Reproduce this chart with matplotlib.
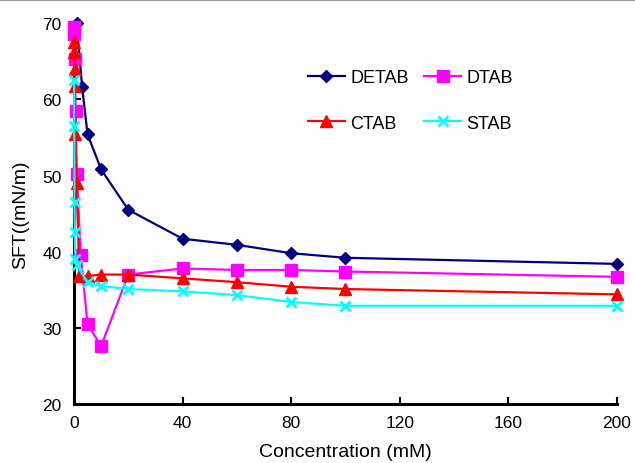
import matplotlib
matplotlib.use('Agg')
import matplotlib.pyplot as plt
from matplotlib.lines import Line2D
import numpy

plt.rcParams['font.family'] = ['Liberation Sans', 'DejaVu Sans']

# surface tension vs concentration (mM)
xDETAB = [1.0, 3.0, 5.0, 10.0, 20.0, 40.0, 60.0, 80.0, 100.0, 200.0]
yDETAB = [70.0, 61.6, 55.4, 50.8, 45.5, 41.7, 40.9, 39.8, 39.2, 38.4]

xDTAB = [0.05, 0.1, 0.3, 0.6, 1.0, 2.5, 5.0, 10.0, 20.0, 40.0, 60.0, 80.0, 100.0, 200.0]
yDTAB = [69.5, 68.6, 65.3, 58.5, 50.2, 39.6, 30.5, 27.6, 37.0, 37.8, 37.6, 37.6, 37.4, 36.7]

xCTAB = [0.05, 0.1, 0.2, 0.3, 0.5, 1.0, 2.0, 5.0, 10.0, 20.0, 40.0, 60.0, 80.0, 100.0, 200.0]
yCTAB = [67.5, 66.2, 64.0, 61.8, 55.4, 49.0, 36.8, 36.8, 37.0, 37.0, 36.5, 36.0, 35.4, 35.1, 34.4]

xSTAB = [0.05, 0.1, 0.2, 0.3, 0.5, 1.0, 5.0, 10.0, 20.0, 40.0, 60.0, 80.0, 100.0, 200.0]
ySTAB = [62.6, 56.5, 46.5, 42.6, 39.0, 38.2, 36.0, 35.5, 35.1, 34.8, 34.3, 33.4, 32.9, 32.9]

fig = plt.figure(figsize=(6.35, 4.64), dpi=100)
ax = fig.add_axes([0.1165, 0.127, 0.855, 0.821])

l1, = ax.plot(numpy.array(xDETAB), numpy.array(yDETAB), color='#000080', lw=1.6, marker='D', ms=6.5, label='DETAB', clip_on=False, zorder=3)
l2, = ax.plot(numpy.array(xDTAB), numpy.array(yDTAB), color='#FF00FF', lw=1.6, marker='s', ms=8, label='DTAB', clip_on=False, zorder=4)
l3, = ax.plot(numpy.array(xCTAB), numpy.array(yCTAB), color='#FF0000', lw=1.6, marker='^', ms=8, label='CTAB', clip_on=False, zorder=5)
l4, = ax.plot(numpy.array(xSTAB), numpy.array(ySTAB), color='#00FFFF', lw=1.6, marker='x', ms=7, mew=2, label='STAB', clip_on=False, zorder=6)

ax.set_xlim(0, 200)
ax.set_ylim(20, 70)
ax.set_xticks([0, 40, 80, 120, 160, 200])
ax.set_yticks([20, 30, 40, 50, 60, 70])
ax.tick_params(direction='in', length=5, width=1.5, labelsize=12.5)
ax.tick_params(axis='x', pad=8)
ax.tick_params(axis='y', pad=9)
for s in ['top', 'right']:
    ax.spines[s].set_visible(False)
for s in ['left', 'bottom']:
    ax.spines[s].set_linewidth(2.2)

ax.set_xlabel('Concentration (mM)', fontsize=14, labelpad=9)
ax.set_ylabel('SFT((mN/m)', fontsize=14, labelpad=9)

# legend filled row by row: DETAB DTAB / CTAB STAB
ax.legend([l1, l3, l2, l4], ['DETAB', 'CTAB', 'DTAB', 'STAB'], ncol=2, frameon=False, fontsize=13,
          loc='upper left', bbox_to_anchor=(0.431, 0.88), borderaxespad=0, borderpad=0,
          handlelength=2.05, columnspacing=0.85, labelspacing=1.6, handletextpad=0.3)

# grey frame line along top
fig.add_artist(Line2D([0, 1], [0.998, 0.998], color='#999999', lw=1.5))

fig.savefig('out.png', dpi=100)
